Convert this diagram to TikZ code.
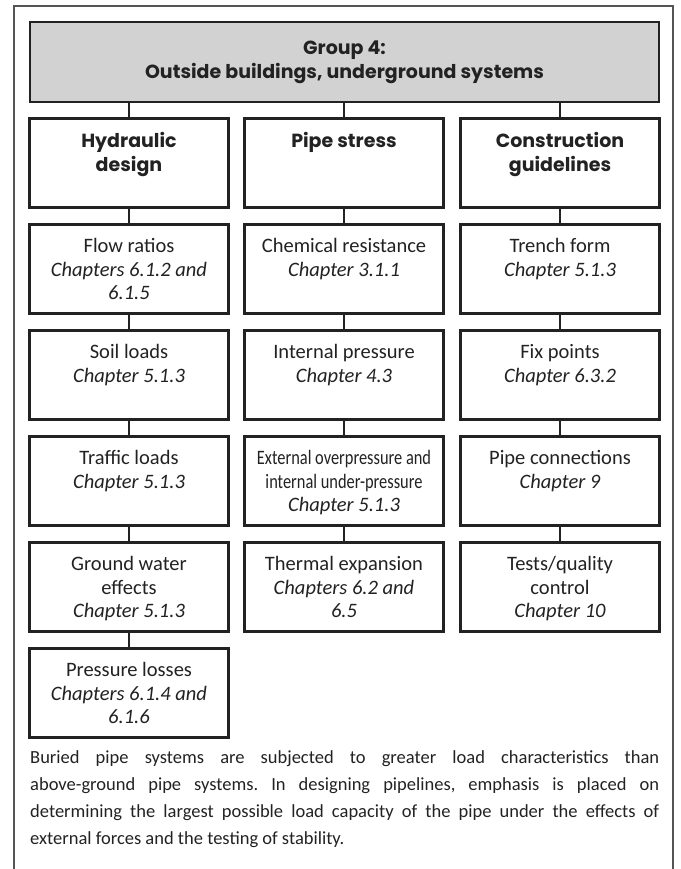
\documentclass[tikz,border=0pt]{standalone}
\usepackage{fontspec}
\usepackage{graphicx}
\setmainfont{Carlito}
\newfontfamily\hfont{Poppins}
\definecolor{ink}{HTML}{222222}
\definecolor{hdrfill}{HTML}{D2D2D2}
\definecolor{framec}{HTML}{555555}
\newcommand\bxt[1]{\parbox[c][84pt][t]{194pt}{\centering\vspace*{11.5pt}#1}}
\newcommand\hdt[1]{\parbox[c][84pt][t]{194pt}{\centering\vspace*{11.5pt}\hfont\bfseries\fontsize{19}{24}\selectfont #1}}
\tikzset{
  x=1pt, y=-1pt,
  every node/.style={text=ink, font=\fontsize{20.5}{23.5}\selectfont},
  cbox/.style={draw=ink, line width=2.3pt, fill=white, minimum width=198pt, minimum height=88pt, inner sep=0pt},
  topbox/.style={draw=ink, line width=2.3pt, fill=hdrfill, minimum width=629pt, minimum height=80pt, inner sep=0pt, align=center, font=\hfont\bfseries\fontsize{19}{24}\selectfont},
  link/.style={draw=ink, line width=2pt},
  frameline/.style={draw=framec, line width=1.3pt}
}
\begin{document}
\begin{tikzpicture}
\useasboundingbox (0,0) rectangle (680,869);
\draw[frameline] (14,869) -- (14,6) -- (673,6) -- (673,869);
\node[topbox] (g) at (344.5,62) {Group 4:\\Outside buildings, underground systems};
% column 1
\node[cbox] (a0) at (129,163) {\hdt{Hydraulic\\design}};
\node[cbox] (a1) at (129,269) {\bxt{Flow ratios\\\itshape Chapters 6.1.2 and\\6.1.5}};
\node[cbox] (a2) at (129,375) {\bxt{Soil loads\\\itshape Chapter 5.1.3}};
\node[cbox] (a3) at (129,481) {\bxt{Traffic loads\\\itshape Chapter 5.1.3}};
\node[cbox] (a4) at (129,587) {\bxt{Ground water\\effects\\\itshape Chapter 5.1.3}};
\node[cbox] (a5) at (129,693) {\bxt{Pressure losses\\\itshape Chapters 6.1.4 and\\6.1.6}};
% column 2
\node[cbox] (b0) at (344,163) {\hdt{Pipe stress}};
\node[cbox] (b1) at (344,269) {\bxt{Chemical resistance\\\itshape Chapter 3.1.1}};
\node[cbox] (b2) at (344,375) {\bxt{Internal pressure\\\itshape Chapter 4.3}};
\node[cbox] (b3) at (344,481) {\bxt{\scalebox{0.8}[1]{External overpressure and}\\\scalebox{0.8}[1]{internal under-pressure}\\\itshape Chapter 5.1.3}};
\node[cbox] (b4) at (344,587) {\bxt{Thermal expansion\\\itshape Chapters 6.2 and\\6.5}};
% column 3
\node[cbox] (c0) at (560,163) {\hdt{Construction\\guidelines}};
\node[cbox] (c1) at (560,269) {\bxt{Trench form\\\itshape Chapter 5.1.3}};
\node[cbox] (c2) at (560,375) {\bxt{Fix points\\\itshape Chapter 6.3.2}};
\node[cbox] (c3) at (560,481) {\bxt{Pipe connections\\\itshape Chapter 9}};
\node[cbox] (c4) at (560,587) {\bxt{Tests/quality\\control\\\itshape Chapter 10}};
% connectors
\foreach \n in {a0,b0,c0} \draw[link] (\n.north) -- (\n.north |- g.south);
\draw[link] (a0) -- (a1); \draw[link] (a1) -- (a2); \draw[link] (a2) -- (a3); \draw[link] (a3) -- (a4); \draw[link] (a4) -- (a5);
\draw[link] (b0) -- (b1); \draw[link] (b1) -- (b2); \draw[link] (b2) -- (b3); \draw[link] (b3) -- (b4);
\draw[link] (c0) -- (c1); \draw[link] (c1) -- (c2); \draw[link] (c2) -- (c3); \draw[link] (c3) -- (c4);
% redraw box outlines over connector ends
\foreach \n in {a0,a1,a2,a3,a4,a5,b0,b1,b2,b3,b4,c0,c1,c2,c3,c4} \draw[draw=ink, line width=2.3pt] (\n.north west) rectangle (\n.south east);
\node[anchor=north west, text width=629pt, align=justify, inner sep=0pt, font=\fontsize{18.5}{27}\selectfont] (para) at (30,750)
 {\frenchspacing\hyphenpenalty=10000 Buried pipe systems are subjected to greater load characteristics than\linebreak above-ground pipe systems. In designing pipelines, emphasis is placed on\linebreak determining the largest possible load capacity of the pipe under the effects of\linebreak external forces and the testing of stability.};
\end{tikzpicture}
\end{document}
